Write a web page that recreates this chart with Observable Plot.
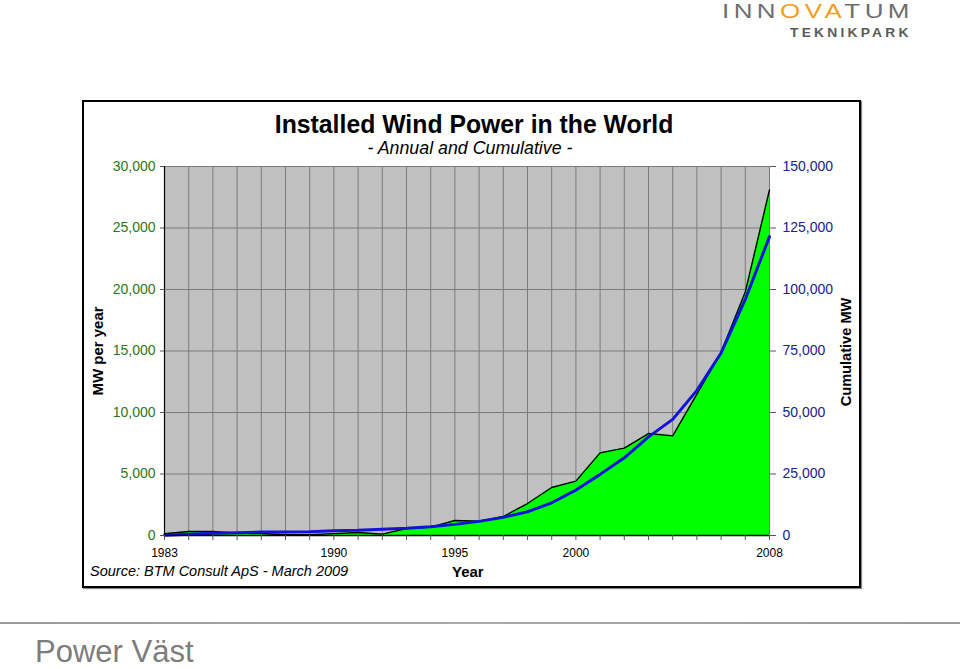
<!DOCTYPE html>
<html>
<head>
<meta charset="utf-8">
<script src="https://cdn.jsdelivr.net/npm/d3@7"></script>
<script src="https://cdn.jsdelivr.net/npm/@observablehq/plot@0.6"></script>
<style>
  html, body { margin: 0; padding: 0; background: #fff; }
  #page { position: relative; width: 960px; height: 669px; overflow: hidden; font-family: "Liberation Sans", Arial, sans-serif; }
  #chart { position: absolute; left: 0; top: 0; }
  .abs { position: absolute; white-space: nowrap; }
  #box { left: 82px; top: 100px; width: 775px; height: 484px; border: 2.5px solid #000; box-shadow: 1px 1px 1px #888; }
  #title { left: 0; width: 948px; top: 109px; text-align: center; font-weight: bold; font-size: 26.5px; color: #000; transform: scaleX(0.935); transform-origin: 475px 0; }
  #subtitle { left: 0; width: 940px; top: 138px; text-align: center; font-style: italic; font-size: 17.8px; color: #000; }
  #ylab { left: 97px; top: 351px; transform: translate(-50%, -50%) rotate(-90deg); font-weight: bold; font-size: 15px; }
  #y2lab { left: 846px; top: 352px; transform: translate(-50%, -50%) rotate(-90deg); font-weight: bold; font-size: 14.6px; }
  #source { left: 90px; top: 563px; font-style: italic; font-size: 14.5px; }
  #xlab { left: 452px; top: 563px; font-weight: bold; font-size: 15px; }
  #logo1 { left: 722px; top: 1px; font-size: 20px; line-height: 1; letter-spacing: 3.4px; color: #6e6e6e; transform: scaleX(1.3); transform-origin: 0 0; }
  #logo1 .o { color: #f0a01e; }
  #logo2 { left: 790px; top: 27px; font-size: 12px; line-height: 1; font-weight: bold; letter-spacing: 2.8px; color: #5a5a5a; transform: scaleX(1.15); transform-origin: 0 0; }
  #hr { left: 0; top: 622px; width: 960px; height: 2px; background: linear-gradient(90deg, #999, #aaa 50%, #999); }
  #footer { left: 35px; top: 635px; font-size: 31px; line-height: 1.1; color: #7d7d7d; }
</style>
</head>
<body>
<div id="page">
  <div id="chart"></div>
  <div class="abs" id="box"></div>
  <div class="abs" id="title">Installed Wind Power in the World</div>
  <div class="abs" id="subtitle">- Annual and Cumulative -</div>
  <div class="abs" id="ylab">MW per year</div>
  <div class="abs" id="y2lab">Cumulative MW</div>
  <div class="abs" id="source">Source: BTM Consult ApS - March 2009</div>
  <div class="abs" id="xlab">Year</div>
  <div class="abs" id="logo1">INN<span class="o">OVA</span>TUM</div>
  <div class="abs" id="logo2">TEKNIKPARK</div>
  <div class="abs" id="hr"></div>
  <div class="abs" id="footer">Power Väst</div>
</div>
<script>
// ---- data ----
const years = [1983, 1984, 1985, 1986, 1987, 1988, 1989, 1990, 1991, 1992, 1993, 1994, 1995,
               1996, 1997, 1998, 1999, 2000, 2001, 2002, 2003, 2004, 2005, 2006, 2007, 2008];
const annualMW = [140, 330, 330, 190, 160, 60, 70, 150, 240, 110, 560, 680, 1220,
                  1160, 1540, 2600, 3900, 4420, 6720, 7100, 8290, 8100, 11500, 14900, 19800, 28100];
const cumulativeMW = [100, 470, 880, 1150, 1420, 1450, 1550, 1960, 2090, 2500, 2900, 3580, 4520,
                      5740, 7360, 9650, 13300, 18470, 24850, 31600, 40100, 47200, 59000, 74200, 96000, 121500];
const leftTicks = [0, 5000, 10000, 15000, 20000, 25000, 30000];
const rightTicks = [0, 25000, 50000, 75000, 100000, 125000, 150000];
const xTickLabels = [1983, 1990, 1995, 2000, 2008];

const ratio = 150000 / 30000;
const rows = years.map((y, i) => ({year: y, annual: annualMW[i], cumulative: cumulativeMW[i]}));
const fmt = d3.format(",");

const chart = Plot.plot({
  width: 960,
  height: 669,
  marginLeft: 164,
  marginRight: 191,
  marginTop: 166,
  marginBottom: 134,
  style: {background: "transparent", fontFamily: "'Liberation Sans', Arial, sans-serif", overflow: "visible"},
  x: {domain: [1983, 2008]},
  y: {domain: [0, 30000]},
  marks: [
    Plot.frame({fill: "#c0c0c0", stroke: "#808080"}),
    Plot.gridX(years, {stroke: "#7a7a7a", strokeOpacity: 1, strokeWidth: 1}),
    Plot.gridY(leftTicks, {stroke: "#7a7a7a", strokeOpacity: 1, strokeWidth: 1}),
    Plot.areaY(rows, {x: "year", y: "annual", fill: "#00ff00"}),
    Plot.lineY(rows, {x: "year", y: "annual", stroke: "#000", strokeWidth: 1.4}),
    Plot.lineY(rows, {x: "year", y: d => d.cumulative / ratio, stroke: "#1212dc", strokeWidth: 3}),
    Plot.ruleX([1983], {stroke: "#000", strokeWidth: 1.2}),
    Plot.ruleY([0], {stroke: "#000", strokeWidth: 1.5}),
    Plot.axisY(leftTicks, {anchor: "left", tickSize: 4, tickPadding: 5, tickFormat: fmt,
      fill: "#237a23", stroke: "#555", fontSize: 14, label: null}),
    Plot.axisY(rightTicks.map(d => d / ratio), {anchor: "right", tickSize: 6, tickPadding: 7,
      tickFormat: d => fmt(d * ratio), fill: "#20208f", stroke: "#555", fontSize: 14, label: null}),
    Plot.axisX(years, {anchor: "bottom", tickSize: 5, tickFormat: () => "", stroke: "#555", label: null}),
    Plot.axisX(xTickLabels, {anchor: "bottom", tickSize: 0, tickPadding: 13, tickFormat: d => String(d),
      fill: "#000", fontSize: 12, fontFamily: "'Liberation Sans Narrow', 'Liberation Sans', Arial, sans-serif", label: null})
  ]
});
document.getElementById("chart").appendChild(chart);
</script>
</body>
</html>
